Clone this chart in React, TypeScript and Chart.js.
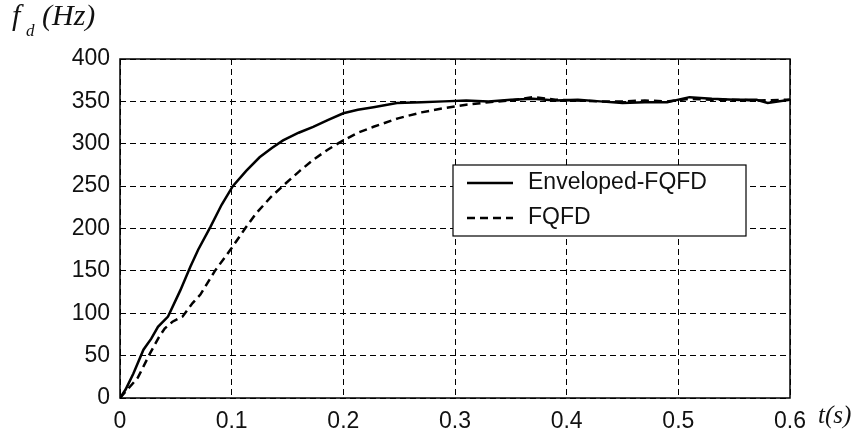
import React, { useEffect, useRef } from "react";
import { Chart, registerables } from "chart.js";

Chart.register(...registerables);

const tEnv = [0, 0.005, 0.012, 0.021, 0.028, 0.034, 0.043, 0.054, 0.063, 0.070, 0.081, 0.091, 0.101, 0.113, 0.125, 0.136, 0.146, 0.160, 0.173, 0.186, 0.200, 0.213, 0.227, 0.248, 0.27, 0.29, 0.31, 0.33, 0.35, 0.37, 0.39, 0.41, 0.43, 0.45, 0.47, 0.49, 0.51, 0.53, 0.55, 0.57, 0.58, 0.6];
const fEnv = [0, 10, 29, 57, 70, 84, 96, 127, 155, 175, 202, 228, 250, 268, 284, 295, 304, 313, 320, 328, 336, 340, 343, 348, 349, 350, 351, 350, 352, 353, 351, 352, 350, 348, 349, 349, 355, 353, 352, 352, 348, 352];

const tFqfd = [0, 0.006, 0.016, 0.027, 0.035, 0.040, 0.047, 0.056, 0.065, 0.072, 0.085, 0.100, 0.112, 0.122, 0.135, 0.149, 0.161, 0.173, 0.186, 0.200, 0.213, 0.227, 0.249, 0.27, 0.29, 0.31, 0.33, 0.35, 0.37, 0.39, 0.41, 0.43, 0.45, 0.47, 0.49, 0.51, 0.53, 0.55, 0.57, 0.6];
const fFqfd = [0, 9, 24, 53, 72, 82, 90, 96, 112, 122, 150, 177, 200, 218, 237, 254, 268, 281, 293, 304, 313, 320, 330, 337, 342, 346, 349, 351, 355, 352, 351, 350, 350, 351, 350, 353, 352, 352, 351, 352];

const xTicks = [0, 0.1, 0.2, 0.3, 0.4, 0.5, 0.6];
const xTickLabels = ["0", "0.1", "0.2", "0.3", "0.4", "0.5", "0.6"];
const yTicks = [0, 50, 100, 150, 200, 250, 300, 350, 400];
const yTickLabels = ["0", "50", "100", "150", "200", "250", "300", "350", "400"];

const seriesLabels = ["Enveloped-FQFD", "FQFD"];

const serif = "'Liberation Serif', 'Times New Roman', serif";

const overlayPlugin = {
  id: "overlay",
  afterDraw(chart: any) {
    const { ctx, chartArea } = chart;
    const { left, right, top, bottom } = chartArea;
    ctx.save();
    // frame
    ctx.setLineDash([]);
    ctx.strokeStyle = "#000";
    ctx.lineWidth = 1.5;
    ctx.strokeRect(left, top, right - left, bottom - top);

    // legend box
    const lx = 453, ly = 165, lw = 293, lh = 71;
    ctx.fillStyle = "#fff";
    ctx.fillRect(lx, ly, lw, lh);
    ctx.lineWidth = 1.2;
    ctx.strokeRect(lx, ly, lw, lh);
    const rows = [183, 218];
    const dashes = [[], [8, 5]];
    ctx.font = "23px 'Liberation Sans', Arial, sans-serif";
    ctx.textBaseline = "middle";
    ctx.textAlign = "left";
    seriesLabels.forEach((lab, i) => {
      ctx.beginPath();
      ctx.setLineDash(dashes[i]);
      ctx.lineWidth = 2.5;
      ctx.strokeStyle = "#000";
      ctx.moveTo(467, rows[i]);
      ctx.lineTo(513, rows[i]);
      ctx.stroke();
      ctx.setLineDash([]);
      ctx.fillStyle = "#111";
      ctx.fillText(lab, 528, rows[i]);
    });

    // y title f_d(Hz)
    ctx.fillStyle = "#111";
    ctx.textBaseline = "alphabetic";
    ctx.font = `italic 30px ${serif}`;
    ctx.fillText("f", 12, 25);
    ctx.font = `italic 17px ${serif}`;
    ctx.fillText("d", 26, 36);
    ctx.font = `italic 30px ${serif}`;
    ctx.fillText("(Hz)", 42, 25);

    // x title t(s)
    ctx.font = `italic 25px ${serif}`;
    ctx.fillText("t(s)", 818, 423);
    ctx.restore();
  },
};

export default function App() {
  const ref = useRef<HTMLCanvasElement | null>(null);
  useEffect(() => {
    document.body.style.margin = "0";
    const canvas = ref.current;
    if (!canvas) return;
    const tickFont = { family: "'Liberation Sans', Arial, sans-serif", size: 23 };
    const chart = new Chart(canvas, {
      type: "line",
      data: {
        datasets: [
          {
            label: seriesLabels[0],
            data: tEnv.map((t, i) => ({ x: t, y: fEnv[i] })),
            borderColor: "#000",
            borderWidth: 2.5,
            pointRadius: 0,
            tension: 0,
            fill: false,
          },
          {
            label: seriesLabels[1],
            data: tFqfd.map((t, i) => ({ x: t, y: fFqfd[i] })),
            borderColor: "#000",
            borderWidth: 2.5,
            borderDash: [8, 5],
            pointRadius: 0,
            tension: 0,
            fill: false,
          },
        ],
      },
      options: {
        responsive: false,
        animation: false,
        events: [],
        layout: { padding: { top: 59, right: 76, left: 0, bottom: 0 } },
        plugins: {
          legend: { display: false },
          tooltip: { enabled: false },
          title: { display: false },
        },
        scales: {
          x: {
            type: "linear",
            min: 0,
            max: 0.6,
            afterBuildTicks: (s: any) => {
              s.ticks = xTicks.map((v) => ({ value: v }));
            },
            afterFit: (s: any) => {
              s.height = 37;
            },
            ticks: {
              color: "#111",
              font: tickFont,
              padding: 10,
              maxRotation: 0,
              autoSkip: false,
              callback: (v: any) => {
                const i = xTicks.findIndex((t) => Math.abs(t - v) < 1e-9);
                return i >= 0 ? xTickLabels[i] : "";
              },
            },
            grid: { color: "#000", lineWidth: 1, drawTicks: false },
            border: { display: false, dash: [6, 4] },
          },
          y: {
            type: "linear",
            min: 0,
            max: 400,
            afterBuildTicks: (s: any) => {
              s.ticks = yTicks.map((v) => ({ value: v }));
            },
            afterFit: (s: any) => {
              s.width = 120;
            },
            ticks: {
              color: "#111",
              font: tickFont,
              padding: 10,
              autoSkip: false,
              callback: (v: any) => {
                const i = yTicks.findIndex((t) => Math.abs(t - v) < 1e-9);
                return i >= 0 ? yTickLabels[i] : "";
              },
            },
            grid: { color: "#000", lineWidth: 1, drawTicks: false },
            border: { display: false, dash: [6, 4] },
          },
        },
      },
      plugins: [overlayPlugin],
    } as any);
    return () => chart.destroy();
  }, []);
  return (
    <div style={{ position: "absolute", left: 0, top: 0, width: 866, height: 435, background: "#fff" }}>
      <canvas ref={ref} width={866} height={435} style={{ display: "block", width: 866, height: 435 }} />
    </div>
  );
}
